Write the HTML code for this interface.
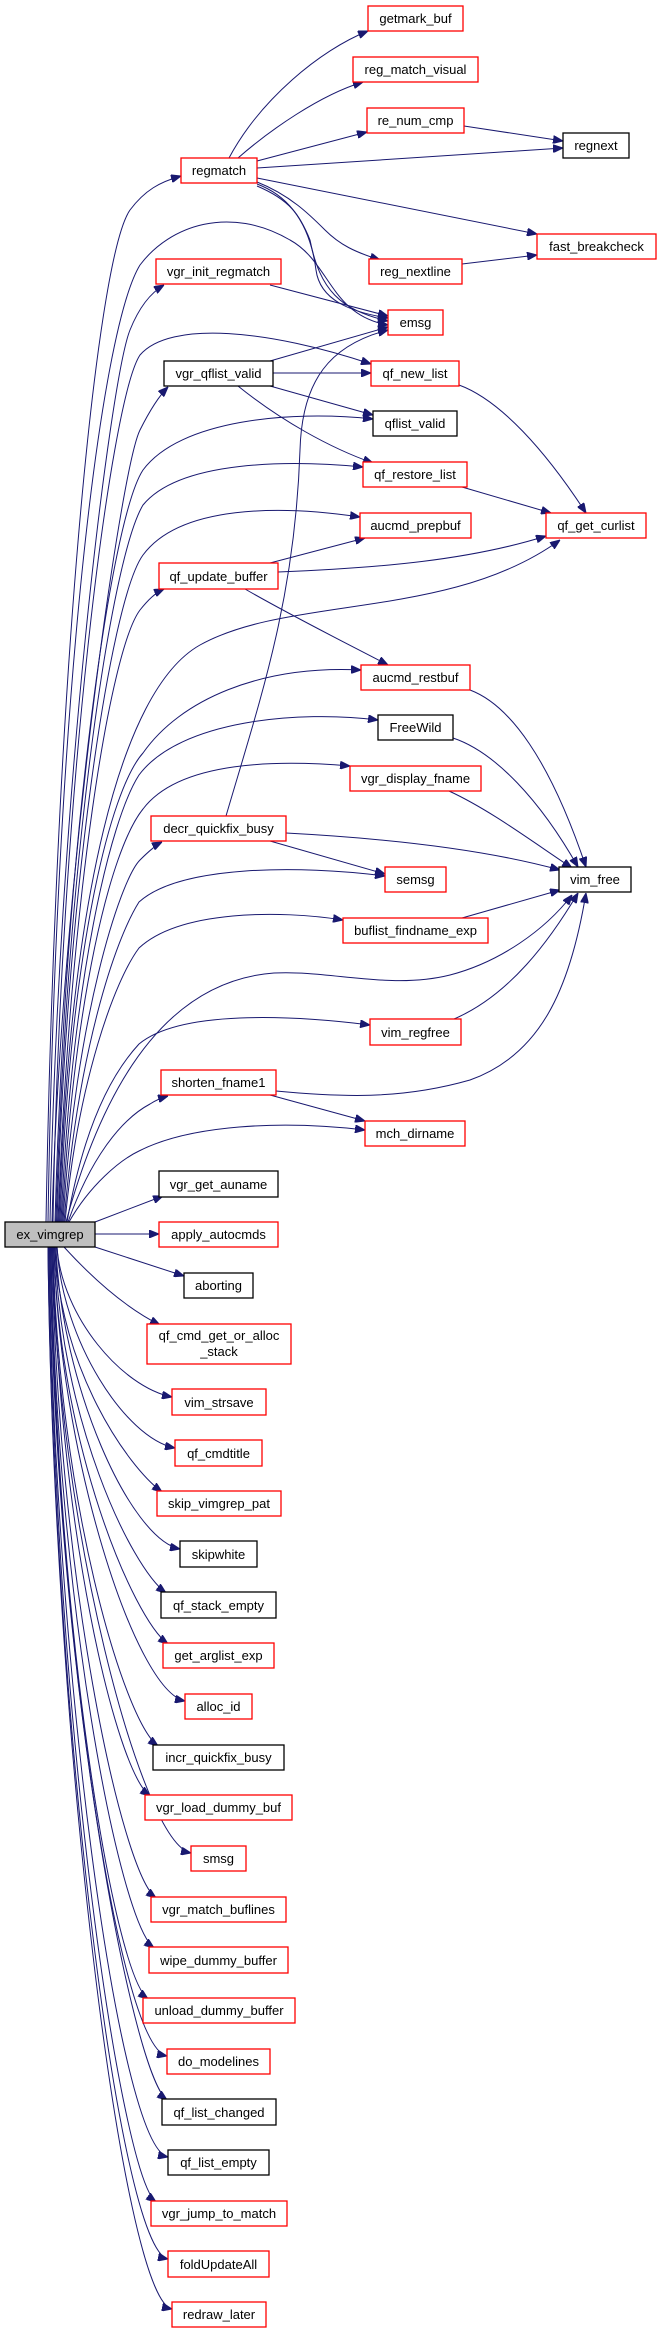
<!DOCTYPE html>
<html><head><meta charset="utf-8"><style>
html,body{margin:0;padding:0;background:#fff;}
svg{display:block;}
text{font-family:"Liberation Sans",sans-serif;font-size:13px;fill:#000;text-anchor:middle;}
.e{fill:none;stroke:#191970;stroke-width:1;}
</style></head><body>
<svg width="659" height="2333" viewBox="0 0 659 2333" xmlns="http://www.w3.org/2000/svg">
<defs>
<marker id="a" markerWidth="10" markerHeight="8" refX="10" refY="4" orient="auto" markerUnits="userSpaceOnUse">
<path d="M0,0 L10,4 L0,8 z" fill="#191970" stroke="#191970"/>
</marker>
</defs>
<g class="e" marker-end="url(#a)">
<!-- regmatch edges -->
<path d="M229,158 C260,100 320,50 368,31"/>
<path d="M238,158 C270,130 320,95 363,82"/>
<path d="M257,161 L367,132"/>
<path d="M257,168 L563,148"/>
<path d="M464,126 L563,141"/>
<path d="M257,178 L537,234"/>
<path d="M257,182 C290,195 310,215 325,230 C340,245 355,252 380,260"/>
<path d="M257,184 C300,200 312,240 316,270 C320,300 350,312 388,318"/>
<path d="M257,186 C290,200 300,215 310,240 C320,290 340,310 388,321"/>
<path d="M462,264 L537,255"/>
<path d="M270,285 L388,316"/>
<!-- vgr_qflist_valid -->
<path d="M270,361 L388,327"/>
<path d="M273,373 L371,373"/>
<path d="M270,386 L373,415"/>
<path d="M238,386 C280,420 330,448 373,463"/>
<path d="M459,385 C500,400 545,450 586,513"/>
<path d="M462,487 L551,513"/>
<!-- qf_update_buffer -->
<path d="M270,563 L365,538"/>
<path d="M278,572 C380,568 470,560 546,536"/>
<path d="M245,589 C290,615 340,640 388,665"/>
<!-- vim_free group -->
<path d="M470,690 C510,705 550,760 586,867"/>
<path d="M453,738 C495,752 540,800 578,867"/>
<path d="M449,791 C490,810 530,840 572,868"/>
<path d="M286,833 C380,838 480,848 560,870"/>
<path d="M270,841 L385,874"/>
<path d="M462,918 L560,890"/>
<path d="M454,1019 C510,995 550,940 578,893"/>
<path d="M276,1091 C340,1097 400,1100 470,1080 C540,1055 570,990 586,893"/>
<path d="M270,1095 L365,1121"/>
<path d="M226,816 C260,700 295,600 300,450 C302,380 330,345 388,330"/>
<!-- ex_vimgrep upward -->
<path d="M46,1222 C55,700 95,260 130,210 C145,190 160,182 181,176"/>
<path d="M48,1222 C56,700 100,330 140,265 C170,225 230,205 290,240 C330,262 330,315 388,325"/>
<path d="M50,1222 C58,800 110,380 130,330 C140,305 152,292 164,285"/>
<path d="M52,1222 C60,900 120,470 140,430 C150,410 160,395 168,387"/>
<path d="M53,1222 C60,800 110,400 140,355 C170,320 270,330 371,364"/>
<path d="M55,1222 C65,850 110,520 143,470 C180,420 290,410 373,419"/>
<path d="M56,1222 C66,870 110,560 143,505 C180,460 290,460 363,467"/>
<path d="M57,1222 C66,900 110,600 143,555 C180,505 280,505 360,517"/>
<path d="M58,1222 C70,900 110,650 140,610 C148,600 155,593 164,589"/>
<path d="M59,1222 C70,900 120,690 200,645 C290,595 450,620 560,540"/>
<path d="M60,1222 C70,950 110,790 143,753 C180,700 260,665 361,670"/>
<path d="M61,1222 C72,980 110,820 139,775 C180,720 300,710 378,720"/>
<path d="M62,1222 C74,1000 110,850 143,809 C180,760 280,760 350,766"/>
<path d="M63,1222 C75,1020 120,880 140,860 C150,850 156,845 162,842"/>
<path d="M64,1222 C78,1050 115,940 139,902 C180,865 300,865 385,876"/>
<path d="M65,1222 C78,1080 115,980 139,948 C180,910 280,910 343,920"/>
<path d="M66,1222 C110,1060 180,980 274,973 C330,970 390,990 450,975 C500,962 545,930 572,895"/>
<path d="M67,1222 C85,1120 115,1070 139,1044 C180,1010 290,1015 370,1025"/>
<path d="M68,1222 C90,1160 120,1120 150,1104 C156,1100 161,1098 168,1096"/>
<path d="M69,1222 C90,1185 120,1160 139,1151 C190,1125 280,1120 365,1130"/>
<path d="M95,1222 L163,1196"/>
<!-- ex_vimgrep downward -->
<path d="M95,1234 L159,1234"/>
<path d="M95,1247 L184,1276"/>
<path d="M64,1247 C85,1270 120,1305 160,1325"/>
<path d="M57,1247 C62,1317 122,1387 172,1397"/>
<path d="M57,1247 C62,1340 125,1438 175,1448"/>
<path d="M55,1247 C60,1369 127,1466 162,1492"/>
<path d="M56,1247 C61,1385 130,1539 180,1549"/>
<path d="M55,1247 C60,1420 131,1567 166,1593"/>
<path d="M54,1247 C59,1445 133,1618 168,1644"/>
<path d="M54,1247 C59,1454 135,1691 185,1701"/>
<path d="M53,1247 C58,1496 123,1720 158,1746"/>
<path d="M53,1247 C58,1521 115,1770 150,1796"/>
<path d="M52,1247 C57,1522 141,1843 191,1853"/>
<path d="M52,1247 C57,1572 121,1872 156,1898"/>
<path d="M51,1247 C56,1597 119,1922 154,1948"/>
<path d="M51,1247 C56,1622 113,1973 148,1999"/>
<path d="M50,1247 C55,1613 117,2046 167,2056"/>
<path d="M50,1247 C55,1673 132,2074 167,2100"/>
<path d="M49,1247 C54,1659 118,2147 168,2157"/>
<path d="M49,1247 C54,1724 121,2176 156,2202"/>
<path d="M48,1247 C53,1706 118,2249 168,2259"/>
<path d="M48,1247 C53,1733 122,2299 172,2309"/>
</g>
<g stroke-width="1.3">
<rect x="368" y="6" width="95" height="25" fill="#fff" stroke="#ff0000"/><text x="415.5" y="23">getmark_buf</text>
<rect x="353" y="57" width="125" height="25" fill="#fff" stroke="#ff0000"/><text x="415.5" y="74">reg_match_visual</text>
<rect x="367" y="108" width="97" height="25" fill="#fff" stroke="#ff0000"/><text x="415.5" y="125">re_num_cmp</text>
<rect x="563" y="133" width="66" height="25" fill="#fff" stroke="#000"/><text x="596" y="150">regnext</text>
<rect x="181" y="158" width="76" height="25" fill="#fff" stroke="#ff0000"/><text x="219" y="175">regmatch</text>
<rect x="537" y="234" width="119" height="25" fill="#fff" stroke="#ff0000"/><text x="596.5" y="251">fast_breakcheck</text>
<rect x="369" y="259" width="93" height="25" fill="#fff" stroke="#ff0000"/><text x="415.5" y="276">reg_nextline</text>
<rect x="156" y="259" width="125" height="25" fill="#fff" stroke="#ff0000"/><text x="218.5" y="276">vgr_init_regmatch</text>
<rect x="388" y="310" width="55" height="25" fill="#fff" stroke="#ff0000"/><text x="415.5" y="327">emsg</text>
<rect x="164" y="361" width="109" height="25" fill="#fff" stroke="#000"/><text x="218.5" y="378">vgr_qflist_valid</text>
<rect x="371" y="361" width="88" height="25" fill="#fff" stroke="#ff0000"/><text x="415" y="378">qf_new_list</text>
<rect x="373" y="411" width="84" height="25" fill="#fff" stroke="#000"/><text x="415" y="428">qflist_valid</text>
<rect x="363" y="462" width="104" height="25" fill="#fff" stroke="#ff0000"/><text x="415" y="479">qf_restore_list</text>
<rect x="360" y="513" width="111" height="25" fill="#fff" stroke="#ff0000"/><text x="415.5" y="530">aucmd_prepbuf</text>
<rect x="546" y="513" width="100" height="25" fill="#fff" stroke="#ff0000"/><text x="596" y="530">qf_get_curlist</text>
<rect x="159" y="563" width="119" height="26" fill="#fff" stroke="#ff0000"/><text x="218.5" y="581">qf_update_buffer</text>
<rect x="361" y="665" width="109" height="25" fill="#fff" stroke="#ff0000"/><text x="415.5" y="682">aucmd_restbuf</text>
<rect x="378" y="715" width="75" height="25" fill="#fff" stroke="#000"/><text x="415.5" y="732">FreeWild</text>
<rect x="350" y="766" width="131" height="25" fill="#fff" stroke="#ff0000"/><text x="415.5" y="783">vgr_display_fname</text>
<rect x="151" y="816" width="135" height="25" fill="#fff" stroke="#ff0000"/><text x="218.5" y="833">decr_quickfix_busy</text>
<rect x="385" y="867" width="61" height="25" fill="#fff" stroke="#ff0000"/><text x="415.5" y="884">semsg</text>
<rect x="559" y="867" width="72" height="25" fill="#fff" stroke="#000"/><text x="595" y="884">vim_free</text>
<rect x="343" y="918" width="145" height="25" fill="#fff" stroke="#ff0000"/><text x="415.5" y="935">buflist_findname_exp</text>
<rect x="370" y="1019" width="91" height="26" fill="#fff" stroke="#ff0000"/><text x="415.5" y="1037">vim_regfree</text>
<rect x="161" y="1070" width="115" height="25" fill="#fff" stroke="#ff0000"/><text x="218.5" y="1087">shorten_fname1</text>
<rect x="365" y="1121" width="100" height="25" fill="#fff" stroke="#ff0000"/><text x="415" y="1138">mch_dirname</text>
<rect x="159" y="1171" width="119" height="26" fill="#fff" stroke="#000"/><text x="218.5" y="1189">vgr_get_auname</text>
<rect x="5" y="1222" width="90" height="25" fill="#bfbfbf" stroke="#000"/><text x="50" y="1239">ex_vimgrep</text>
<rect x="159" y="1222" width="119" height="25" fill="#fff" stroke="#ff0000"/><text x="218.5" y="1239">apply_autocmds</text>
<rect x="184" y="1273" width="69" height="25" fill="#fff" stroke="#000"/><text x="218.5" y="1290">aborting</text>
<rect x="147" y="1324" width="144" height="40" fill="#fff" stroke="#ff0000"/><text x="219" y="1340">qf_cmd_get_or_alloc</text><text x="219" y="1356">_stack</text>
<rect x="172" y="1389" width="94" height="26" fill="#fff" stroke="#ff0000"/><text x="219" y="1407">vim_strsave</text>
<rect x="175" y="1440" width="87" height="26" fill="#fff" stroke="#ff0000"/><text x="218.5" y="1458">qf_cmdtitle</text>
<rect x="157" y="1491" width="124" height="25" fill="#fff" stroke="#ff0000"/><text x="219" y="1508">skip_vimgrep_pat</text>
<rect x="180" y="1541" width="77" height="26" fill="#fff" stroke="#000"/><text x="218.5" y="1559">skipwhite</text>
<rect x="161" y="1592" width="115" height="26" fill="#fff" stroke="#000"/><text x="218.5" y="1610">qf_stack_empty</text>
<rect x="163" y="1643" width="111" height="25" fill="#fff" stroke="#ff0000"/><text x="218.5" y="1660">get_arglist_exp</text>
<rect x="185" y="1694" width="67" height="25" fill="#fff" stroke="#ff0000"/><text x="218.5" y="1711">alloc_id</text>
<rect x="153" y="1745" width="131" height="25" fill="#fff" stroke="#000"/><text x="218.5" y="1762">incr_quickfix_busy</text>
<rect x="145" y="1795" width="147" height="25" fill="#fff" stroke="#ff0000"/><text x="218.5" y="1812">vgr_load_dummy_buf</text>
<rect x="191" y="1846" width="55" height="25" fill="#fff" stroke="#ff0000"/><text x="218.5" y="1863">smsg</text>
<rect x="151" y="1897" width="135" height="25" fill="#fff" stroke="#ff0000"/><text x="218.5" y="1914">vgr_match_buflines</text>
<rect x="149" y="1947" width="139" height="26" fill="#fff" stroke="#ff0000"/><text x="218.5" y="1965">wipe_dummy_buffer</text>
<rect x="143" y="1998" width="152" height="25" fill="#fff" stroke="#ff0000"/><text x="219" y="2015">unload_dummy_buffer</text>
<rect x="167" y="2049" width="103" height="25" fill="#fff" stroke="#ff0000"/><text x="218.5" y="2066">do_modelines</text>
<rect x="162" y="2099" width="114" height="26" fill="#fff" stroke="#000"/><text x="219" y="2117">qf_list_changed</text>
<rect x="168" y="2150" width="101" height="25" fill="#fff" stroke="#000"/><text x="218.5" y="2167">qf_list_empty</text>
<rect x="151" y="2201" width="136" height="25" fill="#fff" stroke="#ff0000"/><text x="219" y="2218">vgr_jump_to_match</text>
<rect x="168" y="2251" width="101" height="26" fill="#fff" stroke="#ff0000"/><text x="218.5" y="2269">foldUpdateAll</text>
<rect x="172" y="2302" width="94" height="25" fill="#fff" stroke="#ff0000"/><text x="219" y="2319">redraw_later</text>
</g>
</svg>
</body></html>
